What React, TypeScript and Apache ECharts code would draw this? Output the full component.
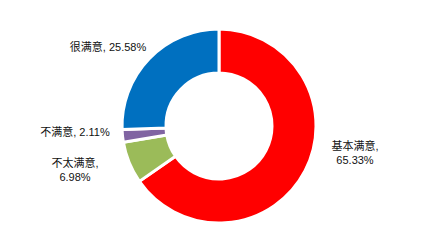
import React, { useEffect, useRef } from "react";
import * as echarts from "echarts";

const categories = ["基本满意", "不太满意", "不满意", "很满意"];
const values = [65.33, 6.98, 2.11, 25.58];
const colors = ["#FF0000", "#9BBB59", "#8064A2", "#0070C0"];
const labelTexts = ["基本满意,\n65.33%", "不太满意,\n6.98%", "不满意, 2.11%", "很满意, 25.58%"];
const labelPos: [number, number][] = [
  [355, 153],
  [75, 170],
  [75, 132],
  [108, 47],
];

export default function App() {
  const ref = useRef<HTMLDivElement>(null);
  useEffect(() => {
    if (!ref.current) return;
    const chart = echarts.init(ref.current, null, { renderer: "svg" });
    chart.setOption({
      animation: false,
      backgroundColor: "#ffffff",
      series: [
        {
          type: "pie",
          center: [219, 126],
          radius: [53, 97],
          startAngle: 90,
          clockwise: true,
          avoidLabelOverlap: false,
          emphasis: { disabled: true },
          itemStyle: { borderColor: "#ffffff", borderWidth: 3 },
          label: {
            show: true,
            position: "outside",
            color: "#111",
            fontSize: 11,
            lineHeight: 14,
            fontFamily: "'Liberation Sans', 'Noto Sans CJK SC', sans-serif",
            align: "center",
            formatter: (p: any) => labelTexts[p.dataIndex],
          },
          labelLine: { show: false },
          labelLayout: (p: any) => ({
            x: labelPos[p.dataIndex][0],
            y: labelPos[p.dataIndex][1],
            align: "center",
            verticalAlign: "middle",
          }),
          data: categories.map((c, i) => ({
            name: c,
            value: values[i],
            itemStyle: { color: colors[i] },
          })),
        },
      ],
    });
    return () => chart.dispose();
  }, []);
  return (
    <div
      ref={ref}
      style={{ position: "fixed", left: 0, top: 0, width: 436, height: 252 }}
    />
  );
}
